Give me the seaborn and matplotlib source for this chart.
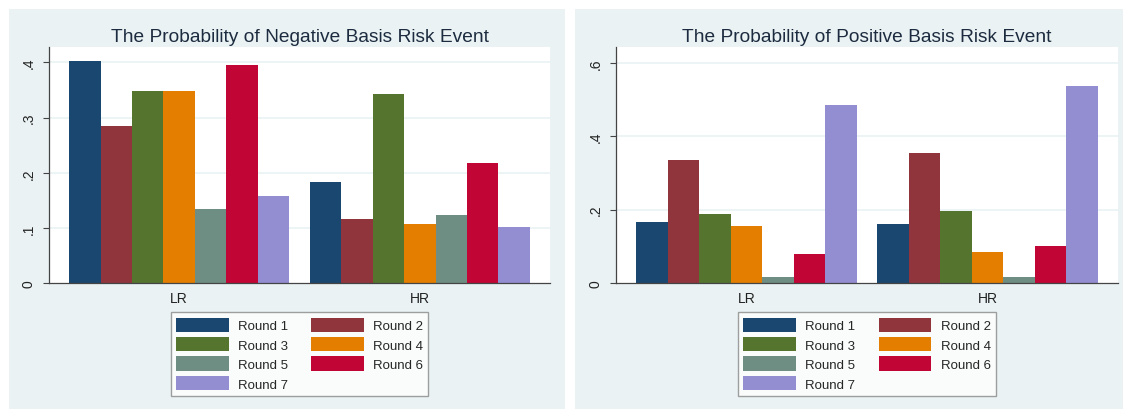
import matplotlib
matplotlib.use("Agg")
import matplotlib.pyplot as plt
from matplotlib.patches import Rectangle
import seaborn as sns
import pandas as pd

# ---- data ----
groups = ["LR", "HR"]
rounds = ["Round 1", "Round 2", "Round 3", "Round 4", "Round 5", "Round 6", "Round 7"]
neg_lr = [0.403, 0.284, 0.348, 0.348, 0.134, 0.395, 0.157]
neg_hr = [0.184, 0.116, 0.342, 0.107, 0.124, 0.218, 0.101]
pos_lr = [0.167, 0.335, 0.188, 0.156, 0.017, 0.078, 0.485]
pos_hr = [0.160, 0.354, 0.195, 0.084, 0.017, 0.102, 0.537]
neg_ticks = [0, 0.1, 0.2, 0.3, 0.4]
neg_ticklabels = ["0", ".1", ".2", ".3", ".4"]
pos_ticks = [0, 0.2, 0.4, 0.6]
pos_ticklabels = ["0", ".2", ".4", ".6"]
titles = ["The Probability of Negative Basis Risk Event",
          "The Probability of Positive Basis Risk Event"]

colors = ["#1a476f", "#90353b", "#55752f", "#e37e00", "#6e8e84", "#c10534", "#938dd2"]

sns.set_theme(style="white")
plt.rcParams["font.family"] = ["Liberation Sans", "DejaVu Sans"]

W, H = 1123, 410
fig = plt.figure(figsize=(W / 100, H / 100), dpi=100)
fig.patch.set_facecolor("white")

BG = "#eaf2f3"
# panel backgrounds (pixel coords: x0, x1)
for (x0, x1) in [(9, 565), (575, 1123)]:
    fig.add_artist(Rectangle((x0 / W, 0), (x1 - x0) / W, 1 - 10 / H,
                             transform=fig.transFigure, facecolor=BG,
                             edgecolor="none", zorder=-10))


def make_df(lr, hr):
    rows = []
    for r, a, b in zip(rounds, lr, hr):
        rows.append({"group": "LR", "round": r, "value": a})
        rows.append({"group": "HR", "round": r, "value": b})
    return pd.DataFrame(rows)


specs = [
    (make_df(neg_lr, neg_hr), 49, 550, 0.428, neg_ticks, neg_ticklabels),
    (make_df(pos_lr, pos_hr), 616, 1118, 0.643, pos_ticks, pos_ticklabels),
]

for i, (df, px0, px1, ymax, ticks, tlabels) in enumerate(specs):
    top, bot = 48, 284
    ax = fig.add_axes([px0 / W, 1 - bot / H, (px1 - px0) / W, (bot - top) / H])
    ax.set_facecolor("white")
    sns.barplot(data=df, x="group", y="value", hue="round", order=groups,
                hue_order=rounds, palette=colors, width=0.913, gap=0,
                saturation=1, linewidth=0, errorbar=None, ax=ax)
    ax.set_xlim(-0.54, 1.54)
    ax.set_ylim(0, ymax)
    ax.set_yticks(ticks)
    ax.set_yticklabels(tlabels, rotation=90, va="center", fontsize=10, color="#222222")
    ax.set_xticks([0, 1])
    ax.set_xticklabels(groups, fontsize=10, color="#222222")
    ax.set_xlabel("")
    ax.set_ylabel("")
    ax.tick_params(axis="y", direction="out", length=4.5, width=0.8, color="#444444", pad=5, left=True)
    ax.tick_params(axis="x", length=0, pad=6)
    for t in ticks[1:]:
        ax.axhline(t, color=BG, lw=1.2, zorder=0.5)
    for s in ["top", "right"]:
        ax.spines[s].set_visible(False)
    for s in ["left", "bottom"]:
        ax.spines[s].set_color("#444444")
        ax.spines[s].set_linewidth(0.9)
    ax.set_title(titles[i], fontsize=13.8, color="#1c2b3f", pad=4)

    leg = ax.get_legend()
    handles = list(leg.legend_handles)
    labels = [t.get_text() for t in leg.get_texts()]
    leg.remove()
    order = [0, 2, 4, 6, 1, 3, 5]
    lg = ax.legend([handles[k] for k in order], [labels[k] for k in order],
                   ncol=2, loc="upper center", bbox_to_anchor=(0.5, -0.097),
                   fontsize=9.5, handlelength=4.0, handleheight=1.3,
                   handletextpad=0.7, columnspacing=1.75, labelspacing=0.37,
                   borderpad=0.38, frameon=True, fancybox=False)
    lg.get_frame().set_edgecolor("#888888")
    lg.get_frame().set_linewidth(1.0)
    lg.get_frame().set_facecolor("white")

fig.savefig("out.png", dpi=100, facecolor="white")
